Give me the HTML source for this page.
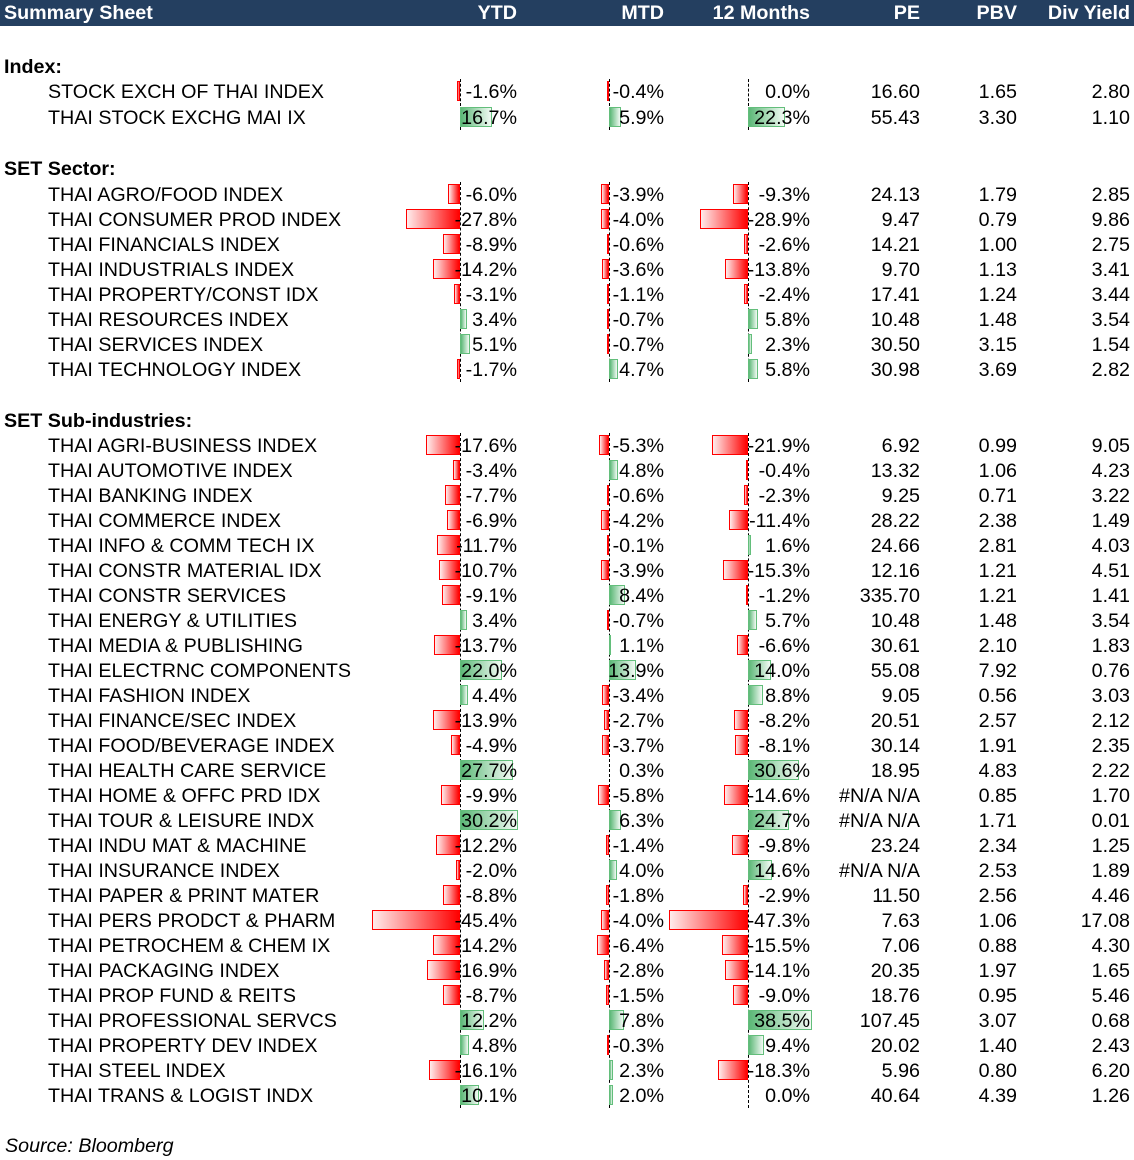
<!DOCTYPE html>
<html><head><meta charset="utf-8"><style>
body{margin:0;background:#fff;width:1134px;height:1160px;position:relative;overflow:hidden;font-family:"Liberation Sans",Arial,sans-serif;color:#000}
.hd{position:absolute;left:0;top:0;width:1134px;height:26px;background:#243f60;color:#fff;font-weight:bold;font-size:19.7px;line-height:27px}
.hd span{position:absolute;text-align:right}
.r{position:absolute;left:0;width:1134px;height:25px;font-size:19.7px;line-height:26px}
.r span{position:absolute;white-space:nowrap}
.nm{left:48px}
.sec{left:4px;font-weight:bold}
.a{left:380px;width:137px;text-align:right}
.b{left:540px;width:124px;text-align:right}
.c{left:680px;width:130px;text-align:right}
.d{left:800px;width:120px;text-align:right}
.e{left:930px;width:87px;text-align:right}
.f{left:1030px;width:100px;text-align:right}
.ax{position:absolute;top:0;width:0;height:25px}
.ax i{position:absolute;top:2px;height:20px;display:block;box-sizing:border-box}
.ax i.n{right:0;border:1px solid #ff0000;background:linear-gradient(to right,#ffecec,#ff0000)}
.ax i.p{left:0;border:1px solid #63be7b;background:linear-gradient(to right,#5cb877,#f2faf4)}
.y{left:460px;--s:1.93px}.m{left:609px;--s:1.95px}.t{left:748px;--s:1.66px}
.ax i{width:calc(var(--s)*var(--v))}
.dl{position:absolute;width:0;border-left:1px dashed #000}
.src{position:absolute;left:5px;top:1134px;font-size:19.7px;font-style:italic;line-height:25px}
</style></head><body>
<div class="hd"><span style="left:4px">Summary Sheet</span><span style="left:400px;width:117px">YTD</span><span style="left:560px;width:104px">MTD</span><span style="left:680px;width:130px">12 Months</span><span style="left:820px;width:100px">PE</span><span style="left:930px;width:87px">PBV</span><span style="left:1000px;width:130px">Div Yield</span></div>

<div class="dl" style="left:460px;top:79px;height:51px"></div><div class="dl" style="left:609px;top:79px;height:51px"></div><div class="dl" style="left:748px;top:79px;height:51px"></div>
<div class="dl" style="left:460px;top:182px;height:200px"></div><div class="dl" style="left:609px;top:182px;height:200px"></div><div class="dl" style="left:748px;top:182px;height:200px"></div>
<div class="dl" style="left:460px;top:433px;height:675px"></div><div class="dl" style="left:609px;top:433px;height:675px"></div><div class="dl" style="left:748px;top:433px;height:675px"></div>

<div class="r" style="top:54px"><span class="sec">Index:</span></div>
<div class="r" style="top:79px"><div class="ax y"><i class="n" style="--v:1.6"></i></div><div class="ax m"><i class="n" style="--v:0.4"></i></div><span class="nm">STOCK EXCH OF THAI INDEX</span><span class="a">-1.6%</span><span class="b">-0.4%</span><span class="c">0.0%</span><span class="d">16.60</span><span class="e">1.65</span><span class="f">2.80</span></div>
<div class="r" style="top:105px"><div class="ax y"><i class="p" style="--v:16.7"></i></div><div class="ax m"><i class="p" style="--v:5.9"></i></div><div class="ax t"><i class="p" style="--v:22.3"></i></div><span class="nm">THAI STOCK EXCHG MAI IX</span><span class="a">16.7%</span><span class="b">5.9%</span><span class="c">22.3%</span><span class="d">55.43</span><span class="e">3.30</span><span class="f">1.10</span></div>

<div class="r" style="top:156px"><span class="sec">SET Sector:</span></div>
<div class="r" style="top:182px"><div class="ax y"><i class="n" style="--v:6.0"></i></div><div class="ax m"><i class="n" style="--v:3.9"></i></div><div class="ax t"><i class="n" style="--v:9.3"></i></div><span class="nm">THAI AGRO/FOOD INDEX</span><span class="a">-6.0%</span><span class="b">-3.9%</span><span class="c">-9.3%</span><span class="d">24.13</span><span class="e">1.79</span><span class="f">2.85</span></div>
<div class="r" style="top:207px"><div class="ax y"><i class="n" style="--v:27.8"></i></div><div class="ax m"><i class="n" style="--v:4.0"></i></div><div class="ax t"><i class="n" style="--v:28.9"></i></div><span class="nm">THAI CONSUMER PROD INDEX</span><span class="a">-27.8%</span><span class="b">-4.0%</span><span class="c">-28.9%</span><span class="d">9.47</span><span class="e">0.79</span><span class="f">9.86</span></div>
<div class="r" style="top:232px"><div class="ax y"><i class="n" style="--v:8.9"></i></div><div class="ax m"><i class="n" style="--v:0.6"></i></div><div class="ax t"><i class="n" style="--v:2.6"></i></div><span class="nm">THAI FINANCIALS INDEX</span><span class="a">-8.9%</span><span class="b">-0.6%</span><span class="c">-2.6%</span><span class="d">14.21</span><span class="e">1.00</span><span class="f">2.75</span></div>
<div class="r" style="top:257px"><div class="ax y"><i class="n" style="--v:14.2"></i></div><div class="ax m"><i class="n" style="--v:3.6"></i></div><div class="ax t"><i class="n" style="--v:13.8"></i></div><span class="nm">THAI INDUSTRIALS INDEX</span><span class="a">-14.2%</span><span class="b">-3.6%</span><span class="c">-13.8%</span><span class="d">9.70</span><span class="e">1.13</span><span class="f">3.41</span></div>
<div class="r" style="top:282px"><div class="ax y"><i class="n" style="--v:3.1"></i></div><div class="ax m"><i class="n" style="--v:1.1"></i></div><div class="ax t"><i class="n" style="--v:2.4"></i></div><span class="nm">THAI PROPERTY/CONST IDX</span><span class="a">-3.1%</span><span class="b">-1.1%</span><span class="c">-2.4%</span><span class="d">17.41</span><span class="e">1.24</span><span class="f">3.44</span></div>
<div class="r" style="top:307px"><div class="ax y"><i class="p" style="--v:3.4"></i></div><div class="ax m"><i class="n" style="--v:0.7"></i></div><div class="ax t"><i class="p" style="--v:5.8"></i></div><span class="nm">THAI RESOURCES INDEX</span><span class="a">3.4%</span><span class="b">-0.7%</span><span class="c">5.8%</span><span class="d">10.48</span><span class="e">1.48</span><span class="f">3.54</span></div>
<div class="r" style="top:332px"><div class="ax y"><i class="p" style="--v:5.1"></i></div><div class="ax m"><i class="n" style="--v:0.7"></i></div><div class="ax t"><i class="p" style="--v:2.3"></i></div><span class="nm">THAI SERVICES INDEX</span><span class="a">5.1%</span><span class="b">-0.7%</span><span class="c">2.3%</span><span class="d">30.50</span><span class="e">3.15</span><span class="f">1.54</span></div>
<div class="r" style="top:357px"><div class="ax y"><i class="n" style="--v:1.7"></i></div><div class="ax m"><i class="p" style="--v:4.7"></i></div><div class="ax t"><i class="p" style="--v:5.8"></i></div><span class="nm">THAI TECHNOLOGY INDEX</span><span class="a">-1.7%</span><span class="b">4.7%</span><span class="c">5.8%</span><span class="d">30.98</span><span class="e">3.69</span><span class="f">2.82</span></div>

<div class="r" style="top:408px"><span class="sec">SET Sub-industries:</span></div>
<div class="r" style="top:433px"><div class="ax y"><i class="n" style="--v:17.6"></i></div><div class="ax m"><i class="n" style="--v:5.3"></i></div><div class="ax t"><i class="n" style="--v:21.9"></i></div><span class="nm">THAI AGRI-BUSINESS INDEX</span><span class="a">-17.6%</span><span class="b">-5.3%</span><span class="c">-21.9%</span><span class="d">6.92</span><span class="e">0.99</span><span class="f">9.05</span></div>
<div class="r" style="top:458px"><div class="ax y"><i class="n" style="--v:3.4"></i></div><div class="ax m"><i class="p" style="--v:4.8"></i></div><div class="ax t"><i class="n" style="--v:0.4"></i></div><span class="nm">THAI AUTOMOTIVE INDEX</span><span class="a">-3.4%</span><span class="b">4.8%</span><span class="c">-0.4%</span><span class="d">13.32</span><span class="e">1.06</span><span class="f">4.23</span></div>
<div class="r" style="top:483px"><div class="ax y"><i class="n" style="--v:7.7"></i></div><div class="ax m"><i class="n" style="--v:0.6"></i></div><div class="ax t"><i class="n" style="--v:2.3"></i></div><span class="nm">THAI BANKING INDEX</span><span class="a">-7.7%</span><span class="b">-0.6%</span><span class="c">-2.3%</span><span class="d">9.25</span><span class="e">0.71</span><span class="f">3.22</span></div>
<div class="r" style="top:508px"><div class="ax y"><i class="n" style="--v:6.9"></i></div><div class="ax m"><i class="n" style="--v:4.2"></i></div><div class="ax t"><i class="n" style="--v:11.4"></i></div><span class="nm">THAI COMMERCE INDEX</span><span class="a">-6.9%</span><span class="b">-4.2%</span><span class="c">-11.4%</span><span class="d">28.22</span><span class="e">2.38</span><span class="f">1.49</span></div>
<div class="r" style="top:533px"><div class="ax y"><i class="n" style="--v:11.7"></i></div><div class="ax m"><i class="n" style="--v:0.1"></i></div><div class="ax t"><i class="p" style="--v:1.6"></i></div><span class="nm">THAI INFO &amp; COMM TECH IX</span><span class="a">-11.7%</span><span class="b">-0.1%</span><span class="c">1.6%</span><span class="d">24.66</span><span class="e">2.81</span><span class="f">4.03</span></div>
<div class="r" style="top:558px"><div class="ax y"><i class="n" style="--v:10.7"></i></div><div class="ax m"><i class="n" style="--v:3.9"></i></div><div class="ax t"><i class="n" style="--v:15.3"></i></div><span class="nm">THAI CONSTR MATERIAL IDX</span><span class="a">-10.7%</span><span class="b">-3.9%</span><span class="c">-15.3%</span><span class="d">12.16</span><span class="e">1.21</span><span class="f">4.51</span></div>
<div class="r" style="top:583px"><div class="ax y"><i class="n" style="--v:9.1"></i></div><div class="ax m"><i class="p" style="--v:8.4"></i></div><div class="ax t"><i class="n" style="--v:1.2"></i></div><span class="nm">THAI CONSTR SERVICES</span><span class="a">-9.1%</span><span class="b">8.4%</span><span class="c">-1.2%</span><span class="d">335.70</span><span class="e">1.21</span><span class="f">1.41</span></div>
<div class="r" style="top:608px"><div class="ax y"><i class="p" style="--v:3.4"></i></div><div class="ax m"><i class="n" style="--v:0.7"></i></div><div class="ax t"><i class="p" style="--v:5.7"></i></div><span class="nm">THAI ENERGY &amp; UTILITIES</span><span class="a">3.4%</span><span class="b">-0.7%</span><span class="c">5.7%</span><span class="d">10.48</span><span class="e">1.48</span><span class="f">3.54</span></div>
<div class="r" style="top:633px"><div class="ax y"><i class="n" style="--v:13.7"></i></div><div class="ax m"><i class="p" style="--v:1.1"></i></div><div class="ax t"><i class="n" style="--v:6.6"></i></div><span class="nm">THAI MEDIA &amp; PUBLISHING</span><span class="a">-13.7%</span><span class="b">1.1%</span><span class="c">-6.6%</span><span class="d">30.61</span><span class="e">2.10</span><span class="f">1.83</span></div>
<div class="r" style="top:658px"><div class="ax y"><i class="p" style="--v:22.0"></i></div><div class="ax m"><i class="p" style="--v:13.9"></i></div><div class="ax t"><i class="p" style="--v:14.0"></i></div><span class="nm">THAI ELECTRNC COMPONENTS</span><span class="a">22.0%</span><span class="b">13.9%</span><span class="c">14.0%</span><span class="d">55.08</span><span class="e">7.92</span><span class="f">0.76</span></div>
<div class="r" style="top:683px"><div class="ax y"><i class="p" style="--v:4.4"></i></div><div class="ax m"><i class="n" style="--v:3.4"></i></div><div class="ax t"><i class="p" style="--v:8.8"></i></div><span class="nm">THAI FASHION INDEX</span><span class="a">4.4%</span><span class="b">-3.4%</span><span class="c">8.8%</span><span class="d">9.05</span><span class="e">0.56</span><span class="f">3.03</span></div>
<div class="r" style="top:708px"><div class="ax y"><i class="n" style="--v:13.9"></i></div><div class="ax m"><i class="n" style="--v:2.7"></i></div><div class="ax t"><i class="n" style="--v:8.2"></i></div><span class="nm">THAI FINANCE/SEC INDEX</span><span class="a">-13.9%</span><span class="b">-2.7%</span><span class="c">-8.2%</span><span class="d">20.51</span><span class="e">2.57</span><span class="f">2.12</span></div>
<div class="r" style="top:733px"><div class="ax y"><i class="n" style="--v:4.9"></i></div><div class="ax m"><i class="n" style="--v:3.7"></i></div><div class="ax t"><i class="n" style="--v:8.1"></i></div><span class="nm">THAI FOOD/BEVERAGE INDEX</span><span class="a">-4.9%</span><span class="b">-3.7%</span><span class="c">-8.1%</span><span class="d">30.14</span><span class="e">1.91</span><span class="f">2.35</span></div>
<div class="r" style="top:758px"><div class="ax y"><i class="p" style="--v:27.7"></i></div><div class="ax t"><i class="p" style="--v:30.6"></i></div><span class="nm">THAI HEALTH CARE SERVICE</span><span class="a">27.7%</span><span class="b">0.3%</span><span class="c">30.6%</span><span class="d">18.95</span><span class="e">4.83</span><span class="f">2.22</span></div>
<div class="r" style="top:783px"><div class="ax y"><i class="n" style="--v:9.9"></i></div><div class="ax m"><i class="n" style="--v:5.8"></i></div><div class="ax t"><i class="n" style="--v:14.6"></i></div><span class="nm">THAI HOME &amp; OFFC PRD IDX</span><span class="a">-9.9%</span><span class="b">-5.8%</span><span class="c">-14.6%</span><span class="d">#N/A N/A</span><span class="e">0.85</span><span class="f">1.70</span></div>
<div class="r" style="top:808px"><div class="ax y"><i class="p" style="--v:30.2"></i></div><div class="ax m"><i class="p" style="--v:6.3"></i></div><div class="ax t"><i class="p" style="--v:24.7"></i></div><span class="nm">THAI TOUR &amp; LEISURE INDX</span><span class="a">30.2%</span><span class="b">6.3%</span><span class="c">24.7%</span><span class="d">#N/A N/A</span><span class="e">1.71</span><span class="f">0.01</span></div>
<div class="r" style="top:833px"><div class="ax y"><i class="n" style="--v:12.2"></i></div><div class="ax m"><i class="n" style="--v:1.4"></i></div><div class="ax t"><i class="n" style="--v:9.8"></i></div><span class="nm">THAI INDU MAT &amp; MACHINE</span><span class="a">-12.2%</span><span class="b">-1.4%</span><span class="c">-9.8%</span><span class="d">23.24</span><span class="e">2.34</span><span class="f">1.25</span></div>
<div class="r" style="top:858px"><div class="ax y"><i class="n" style="--v:2.0"></i></div><div class="ax m"><i class="p" style="--v:4.0"></i></div><div class="ax t"><i class="p" style="--v:14.6"></i></div><span class="nm">THAI INSURANCE INDEX</span><span class="a">-2.0%</span><span class="b">4.0%</span><span class="c">14.6%</span><span class="d">#N/A N/A</span><span class="e">2.53</span><span class="f">1.89</span></div>
<div class="r" style="top:883px"><div class="ax y"><i class="n" style="--v:8.8"></i></div><div class="ax m"><i class="n" style="--v:1.8"></i></div><div class="ax t"><i class="n" style="--v:2.9"></i></div><span class="nm">THAI PAPER &amp; PRINT MATER</span><span class="a">-8.8%</span><span class="b">-1.8%</span><span class="c">-2.9%</span><span class="d">11.50</span><span class="e">2.56</span><span class="f">4.46</span></div>
<div class="r" style="top:908px"><div class="ax y"><i class="n" style="--v:45.4"></i></div><div class="ax m"><i class="n" style="--v:4.0"></i></div><div class="ax t"><i class="n" style="--v:47.3"></i></div><span class="nm">THAI PERS PRODCT &amp; PHARM</span><span class="a">-45.4%</span><span class="b">-4.0%</span><span class="c">-47.3%</span><span class="d">7.63</span><span class="e">1.06</span><span class="f">17.08</span></div>
<div class="r" style="top:933px"><div class="ax y"><i class="n" style="--v:14.2"></i></div><div class="ax m"><i class="n" style="--v:6.4"></i></div><div class="ax t"><i class="n" style="--v:15.5"></i></div><span class="nm">THAI PETROCHEM &amp; CHEM IX</span><span class="a">-14.2%</span><span class="b">-6.4%</span><span class="c">-15.5%</span><span class="d">7.06</span><span class="e">0.88</span><span class="f">4.30</span></div>
<div class="r" style="top:958px"><div class="ax y"><i class="n" style="--v:16.9"></i></div><div class="ax m"><i class="n" style="--v:2.8"></i></div><div class="ax t"><i class="n" style="--v:14.1"></i></div><span class="nm">THAI PACKAGING INDEX</span><span class="a">-16.9%</span><span class="b">-2.8%</span><span class="c">-14.1%</span><span class="d">20.35</span><span class="e">1.97</span><span class="f">1.65</span></div>
<div class="r" style="top:983px"><div class="ax y"><i class="n" style="--v:8.7"></i></div><div class="ax m"><i class="n" style="--v:1.5"></i></div><div class="ax t"><i class="n" style="--v:9.0"></i></div><span class="nm">THAI PROP FUND &amp; REITS</span><span class="a">-8.7%</span><span class="b">-1.5%</span><span class="c">-9.0%</span><span class="d">18.76</span><span class="e">0.95</span><span class="f">5.46</span></div>
<div class="r" style="top:1008px"><div class="ax y"><i class="p" style="--v:12.2"></i></div><div class="ax m"><i class="p" style="--v:7.8"></i></div><div class="ax t"><i class="p" style="--v:38.5"></i></div><span class="nm">THAI PROFESSIONAL SERVCS</span><span class="a">12.2%</span><span class="b">7.8%</span><span class="c">38.5%</span><span class="d">107.45</span><span class="e">3.07</span><span class="f">0.68</span></div>
<div class="r" style="top:1033px"><div class="ax y"><i class="p" style="--v:4.8"></i></div><div class="ax m"><i class="n" style="--v:0.3"></i></div><div class="ax t"><i class="p" style="--v:9.4"></i></div><span class="nm">THAI PROPERTY DEV INDEX</span><span class="a">4.8%</span><span class="b">-0.3%</span><span class="c">9.4%</span><span class="d">20.02</span><span class="e">1.40</span><span class="f">2.43</span></div>
<div class="r" style="top:1058px"><div class="ax y"><i class="n" style="--v:16.1"></i></div><div class="ax m"><i class="p" style="--v:2.3"></i></div><div class="ax t"><i class="n" style="--v:18.3"></i></div><span class="nm">THAI STEEL INDEX</span><span class="a">-16.1%</span><span class="b">2.3%</span><span class="c">-18.3%</span><span class="d">5.96</span><span class="e">0.80</span><span class="f">6.20</span></div>
<div class="r" style="top:1083px"><div class="ax y"><i class="p" style="--v:10.1"></i></div><div class="ax m"><i class="p" style="--v:2.0"></i></div><span class="nm">THAI TRANS &amp; LOGIST INDX</span><span class="a">10.1%</span><span class="b">2.0%</span><span class="c">0.0%</span><span class="d">40.64</span><span class="e">4.39</span><span class="f">1.26</span></div>

<div class="src">Source: Bloomberg</div>
</body></html>
